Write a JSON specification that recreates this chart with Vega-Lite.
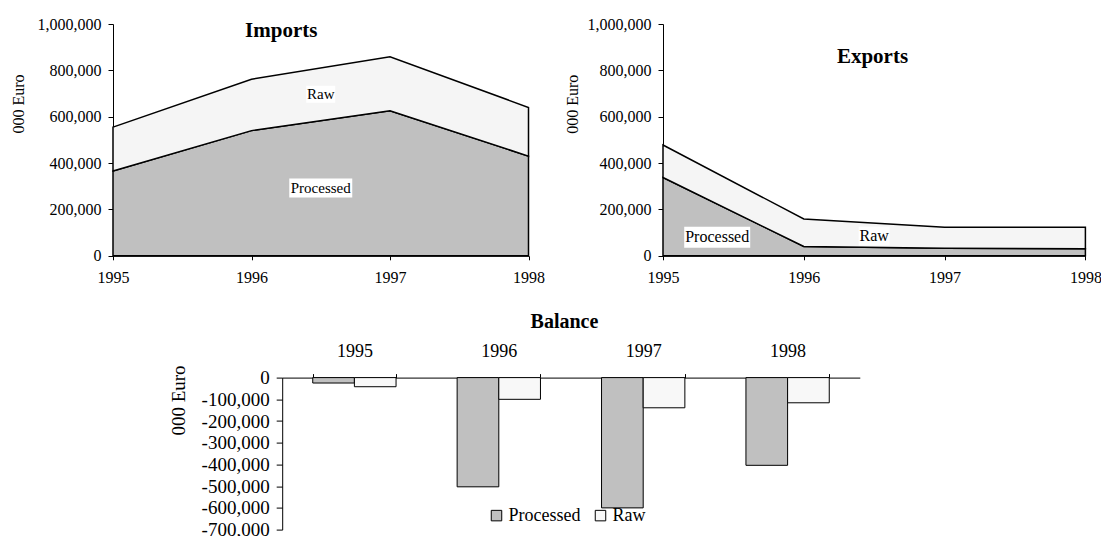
{
  "$schema": "https://vega.github.io/schema/vega-lite/v6.json",
  "padding": {"left": 10, "top": 16, "right": 0, "bottom": 0},
  "config": {
    "font": "Liberation Serif",
    "view": {"stroke": null},
    "axis": {"grid": false, "domainColor": "#000", "tickColor": "#000", "labelColor": "#000", "titleColor": "#000", "labelFont": "Liberation Serif", "titleFont": "Liberation Serif", "titleFontWeight": "normal"},
    "legend": {"labelFont": "Liberation Serif", "labelColor": "#000"},
    "title": {"font": "Liberation Serif", "color": "#000"},
    "locale": {"number": {"decimal": ".", "thousands": ",", "grouping": [3], "currency": ["", ""], "minus": "-"}}
  },
  "datasets": {
    "imports": [
      {"year": 1995, "series": "Processed", "value": 366000},
      {"year": 1996, "series": "Processed", "value": 540000},
      {"year": 1997, "series": "Processed", "value": 626000},
      {"year": 1998, "series": "Processed", "value": 430000},
      {"year": 1995, "series": "Raw", "value": 189000},
      {"year": 1996, "series": "Raw", "value": 222000},
      {"year": 1997, "series": "Raw", "value": 233000},
      {"year": 1998, "series": "Raw", "value": 210000}
    ],
    "exports": [
      {"year": 1995, "series": "Processed", "value": 338000},
      {"year": 1996, "series": "Processed", "value": 40000},
      {"year": 1997, "series": "Processed", "value": 33000},
      {"year": 1998, "series": "Processed", "value": 30000},
      {"year": 1995, "series": "Raw", "value": 140000},
      {"year": 1996, "series": "Raw", "value": 119000},
      {"year": 1997, "series": "Raw", "value": 90000},
      {"year": 1998, "series": "Raw", "value": 93000}
    ],
    "importLabels": [
      {"text": "Raw", "year": 1996.5, "value": 697000},
      {"text": "Processed", "year": 1996.5, "value": 292000}
    ],
    "exportLabels": [
      {"text": "Processed", "year": 1995.385, "value": 80000},
      {"text": "Raw", "year": 1996.5, "value": 85000}
    ],
    "balance": [
      {"year": 1995, "series": "Processed", "value": -25000},
      {"year": 1996, "series": "Processed", "value": -503000},
      {"year": 1997, "series": "Processed", "value": -600000},
      {"year": 1998, "series": "Processed", "value": -404000},
      {"year": 1995, "series": "Raw", "value": -42000},
      {"year": 1996, "series": "Raw", "value": -100000},
      {"year": 1997, "series": "Raw", "value": -139000},
      {"year": 1998, "series": "Raw", "value": -116000}
    ]
  },
  "bounds": "flush",
  "columns": 2,
  "spacing": {"row": 121.6, "column": 134},
  "resolve": {"scale": {"fill": "independent", "shape": "independent", "x": "independent", "y": "independent"}, "legend": {"fill": "independent", "shape": "independent"}},
  "concat": [
    {
      "width": 415.5,
      "height": 231.8,
      "title": {"text": "Imports", "fontSize": 21, "fontWeight": "bold", "anchor": "middle", "frame": "group", "dx": -39.5, "offset": -35.8, "baseline": "middle"},
      "encoding": {
        "x": {"field": "year", "type": "quantitative", "scale": {"domain": [1995, 1998], "nice": false, "zero": false},
              "axis": {"values": [1995, 1996, 1997, 1998], "format": "d", "labelFlush": false, "title": null, "tickSize": 4, "labelPadding": 10, "labelFontSize": 16}},
        "y": {"field": "value", "type": "quantitative", "scale": {"domain": [0, 1000000], "nice": false},
              "axis": {"values": [0, 200000, 400000, 600000, 800000, 1000000], "format": ",d", "title": "000 Euro", "titleFontSize": 16, "titleX": -94.6, "titleY": 79.5, "titleAngle": 270, "titleAlign": "center", "titleBaseline": "middle", "tickSize": 5, "labelPadding": 7, "labelFontSize": 16}}
      },
      "layer": [
        {
          "data": {"name": "imports"},
          "mark": {"type": "area", "stroke": "#000", "strokeWidth": 1.5, "opacity": 1},
          "encoding": {
            "y": {"field": "value", "type": "quantitative", "stack": "zero"},
            "fill": {"field": "series", "type": "nominal", "scale": {"domain": ["Processed", "Raw"], "range": ["#c0c0c0", "#f5f5f5"]}, "legend": null},
            "order": {"field": "series", "sort": "ascending"}
          }
        },
        {
          "data": {"name": "importLabels"},
          "mark": {"type": "point", "filled": true, "color": "#ffffff", "opacity": 1, "size": 4},
          "encoding": {
            "shape": {"field": "text", "type": "nominal", "scale": {"domain": ["Raw", "Processed"], "range": ["M-14.5,-8.5H14.5V8.5H-14.5Z", "M-31.5,-9.5H31.5V9.5H-31.5Z"]}, "legend": null}
          }
        },
        {
          "data": {"name": "importLabels"},
          "mark": {"type": "text", "fontSize": 15, "baseline": "middle", "align": "center", "color": "#000"},
          "encoding": {"text": {"field": "text"}}
        }
      ]
    },
    {
      "width": 422.4,
      "height": 231.8,
      "title": {"text": "Exports", "fontSize": 21, "fontWeight": "bold", "anchor": "middle", "frame": "group", "dx": -1.7, "offset": -61.8, "baseline": "middle"},
      "encoding": {
        "x": {"field": "year", "type": "quantitative", "scale": {"domain": [1995, 1998], "nice": false, "zero": false},
              "axis": {"values": [1995, 1996, 1997, 1998], "format": "d", "labelFlush": false, "title": null, "tickSize": 4, "labelPadding": 10, "labelFontSize": 16}},
        "y": {"field": "value", "type": "quantitative", "scale": {"domain": [0, 1000000], "nice": false},
              "axis": {"values": [0, 200000, 400000, 600000, 800000, 1000000], "format": ",d", "title": "000 Euro", "titleFontSize": 16, "titleX": -90.7, "titleY": 79.8, "titleAngle": 270, "titleAlign": "center", "titleBaseline": "middle", "tickSize": 5, "labelPadding": 7, "labelFontSize": 16}}
      },
      "layer": [
        {
          "data": {"name": "exports"},
          "mark": {"type": "area", "stroke": "#000", "strokeWidth": 1.5, "opacity": 1},
          "encoding": {
            "y": {"field": "value", "type": "quantitative", "stack": "zero"},
            "fill": {"field": "series", "type": "nominal", "scale": {"domain": ["Processed", "Raw"], "range": ["#c0c0c0", "#f5f5f5"]}, "legend": null},
            "order": {"field": "series", "sort": "ascending"}
          }
        },
        {
          "data": {"name": "exportLabels"},
          "mark": {"type": "point", "filled": true, "color": "#ffffff", "opacity": 1, "size": 4},
          "encoding": {
            "shape": {"field": "text", "type": "nominal", "scale": {"domain": ["Raw", "Processed"], "range": ["M-15.5,-9.5H15.5V9.5H-15.5Z", "M-33,-10.5H33V10.5H-33Z"]}, "legend": null}
          }
        },
        {
          "data": {"name": "exportLabels"},
          "mark": {"type": "text", "fontSize": 16, "baseline": "middle", "align": "center", "color": "#000"},
          "encoding": {"text": {"field": "text"}}
        }
      ]
    },
    {
      "width": 415.5,
      "height": 152,
      "data": {"name": "balance"},
      "title": {"text": "Balance", "fontSize": 20, "fontWeight": "bold", "anchor": "middle", "frame": "group", "dx": 243.7, "offset": 1, "baseline": "middle"},
      "mark": {"type": "bar", "stroke": "#000", "strokeWidth": 1},
      "encoding": {
        "x": {"field": "year", "type": "nominal", "scale": {"range": [169.2, 746.8], "paddingInner": 0.423, "paddingOuter": 0.2115},
              "axis": {"orient": "top", "title": null, "labelAngle": 0, "tickBand": "extent", "tickSize": 4, "labelPadding": 13, "labelFontSize": 18}},
        "xOffset": {"field": "series", "type": "nominal", "scale": {"paddingInner": 0, "paddingOuter": 0}},
        "y": {"field": "value", "type": "quantitative", "scale": {"domain": [-700000, 0], "nice": false},
              "axis": {"offset": -169.2, "values": [-700000, -600000, -500000, -400000, -300000, -200000, -100000, 0], "format": ",d", "title": "000 Euro", "titleFontSize": 19, "titleX": -104.2, "titleY": 22.4, "titleAngle": 270, "titleAlign": "center", "titleBaseline": "middle", "tickSize": 6, "labelPadding": 7, "labelFontSize": 19}},
        "fill": {"field": "series", "type": "nominal", "scale": {"domain": ["Processed", "Raw"], "range": ["#c0c0c0", "#f8f8f8"]},
                 "legend": {"orient": "none", "legendX": 374.5, "legendY": 129, "direction": "horizontal", "title": null, "symbolType": "square", "symbolSize": 110, "symbolStrokeColor": "#000", "symbolStrokeWidth": 1, "labelFontSize": 18, "labelOffset": 3, "columnPadding": 11, "padding": 0}}
      }
    }
  ]
}
